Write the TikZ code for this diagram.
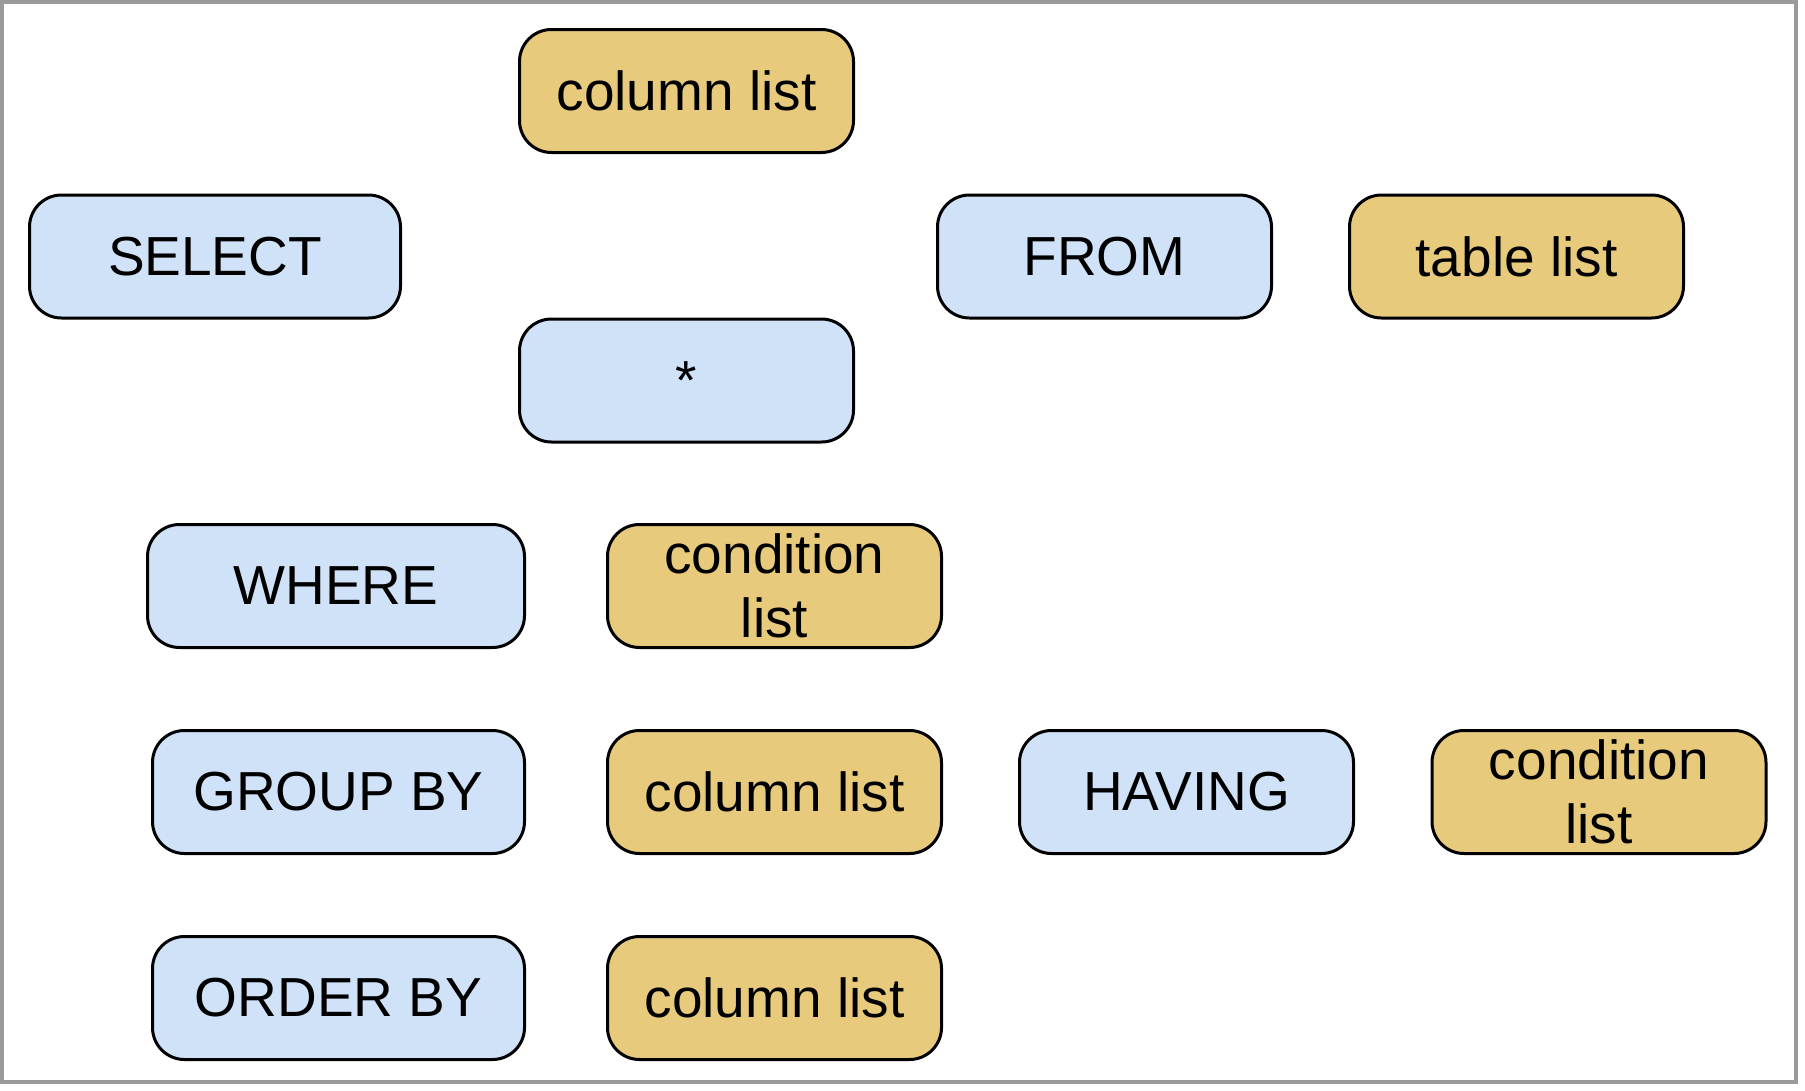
\documentclass[tikz,border=0pt]{standalone}
\usepackage{fontspec}
\setmainfont{Liberation Sans}
\definecolor{kwblue}{HTML}{CFE2F8}
\definecolor{argyellow}{HTML}{E8CA7D}
\definecolor{framegray}{HTML}{9A9A9A}
\begin{document}
\begin{tikzpicture}[x=1pt,y=-1pt,
  box/.style={draw=black, line width=3pt, rounded corners=32pt, minimum height=123pt,
    inner sep=0pt, align=center, font=\fontsize{55}{64}\selectfont},
  kw/.style={box, fill=kwblue},
  arg/.style={box, fill=argyellow}]
\useasboundingbox (0,0) rectangle (1805,1090);
\fill[white] (0,0) rectangle (1805,1090);
\draw[framegray, line width=4pt] (2,2) rectangle (1796,1082);

\node[arg, minimum width=334pt] (col1) at (686.5,91) {column list};
\node[kw, minimum width=371pt] (select) at (215,256.5) {SELECT};
\node[kw, minimum width=334pt] (from) at (1104.5,256.5) {FROM};
\node[arg, minimum width=334pt] (table) at (1516.5,256.5) {table list};
\node[kw, minimum width=334pt] (star) at (686.5,380.5) {*};

\node[kw, minimum width=377pt] (where) at (336,586) {WHERE};
\node[arg, minimum width=334pt] (cond1) at (774.5,586) {condition\\list};

\node[kw, minimum width=372pt] (groupby) at (338.5,792) {GROUP BY};
\node[arg, minimum width=334pt] (col2) at (774.5,792) {column list};
\node[kw, minimum width=334pt] (having) at (1186.5,792) {HAVING};
\node[arg, minimum width=334pt] (cond2) at (1599,792) {condition\\list};

\node[kw, minimum width=372pt] (orderby) at (338.5,998) {ORDER BY};
\node[arg, minimum width=334pt] (col3) at (774.5,998) {column list};
\end{tikzpicture}
\end{document}
